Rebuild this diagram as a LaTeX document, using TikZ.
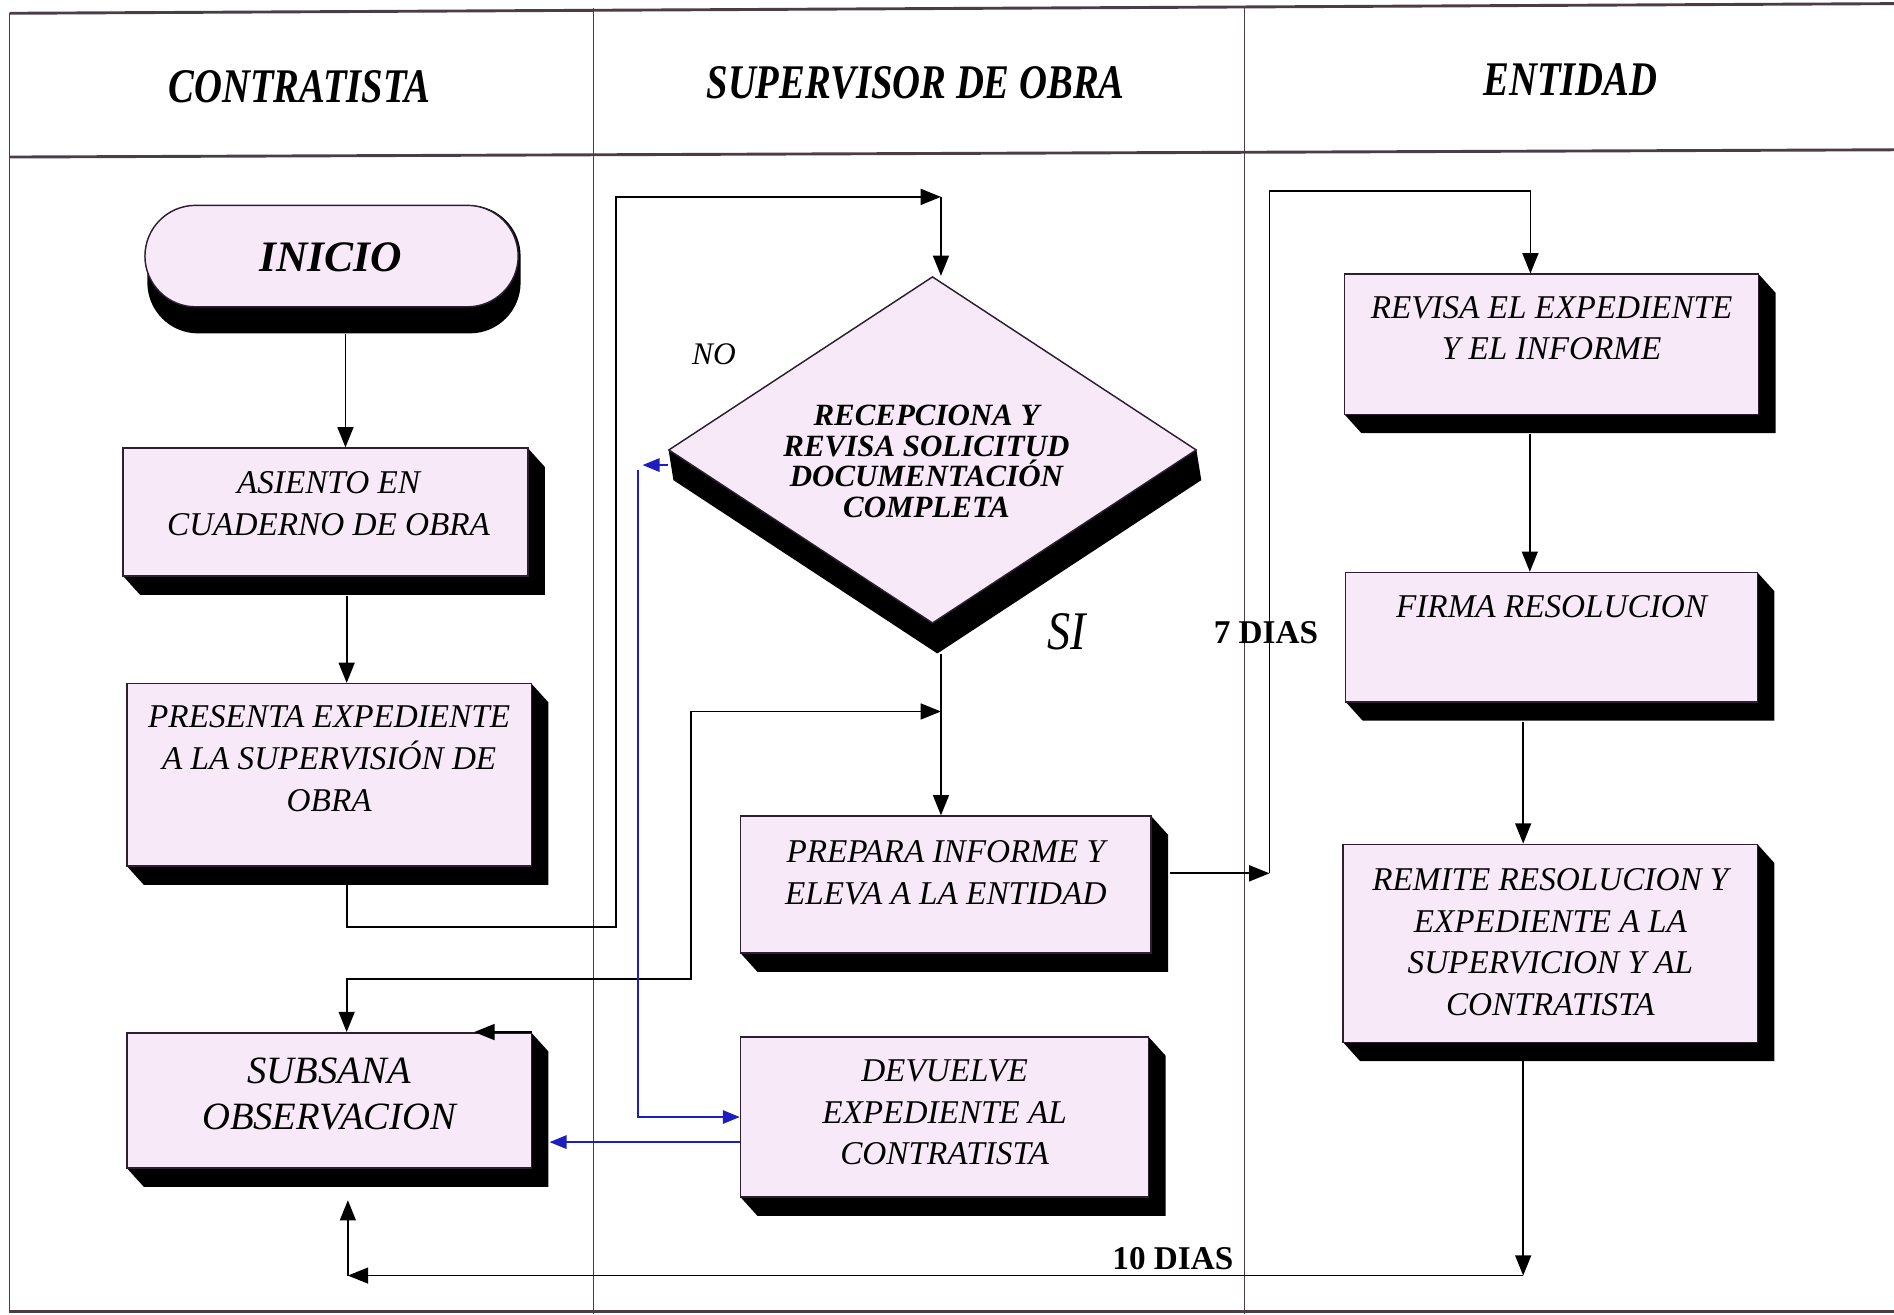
\documentclass[tikz,border=0pt]{standalone}
\usepackage{fontspec}
\setmainfont{Liberation Serif}
\usetikzlibrary{arrows.meta,shapes.geometric,fit,calc}
\definecolor{boxpink}{RGB}{247,233,248}
\definecolor{edgecol}{RGB}{45,30,50}
\definecolor{tline}{RGB}{75,60,70}
\definecolor{conblue}{RGB}{30,30,190}
\tikzset{
  pinkbox/.style={draw=edgecol, line width=0.6pt, fill=boxpink, inner sep=0pt},
  shadowfill/.style={fill=black},
  boxtext/.style={font=\fontsize{13.75}{17.25}\selectfont\itshape, align=center, inner sep=0pt},
  bigtext/.style={font=\fontsize{16}{19}\selectfont\itshape, align=center, inner sep=0pt},
  diatext/.style={font=\fontsize{12.8}{12.6}\selectfont\bfseries\itshape, align=center, inner sep=0pt},
  head/.style={font=\fontsize{20}{24}\selectfont\bfseries\itshape, xscale=0.8, inner sep=0pt},
  days/.style={font=\fontsize{13.75}{16}\selectfont\bfseries, inner sep=0pt},
  conn/.style={line width=0.7pt, draw=black},
  arr/.style={conn, -{Triangle[length=8.4pt,width=6.6pt]}},
  dblarr/.style={conn, {Triangle[length=8.4pt,width=6.6pt]}-{Triangle[length=8.4pt,width=6.6pt]}},
  barr/.style={line width=0.6pt, draw=conblue, -{Triangle[length=7pt,width=5.6pt]}, color=conblue},
  gridthin/.style={line width=0.45pt, draw=tline},
  gridthick/.style={line width=1.2pt, draw=tline},
}
\newcommand\flowbox[5]{%
  \fill[shadowfill] (#2,#3) -- (#4,#3) -- (#4+14,#3+15.5) -- (#4+14,#5+15.5) -- (#2+14,#5+15.5) -- (#2,#5) -- cycle;
  \node[pinkbox, fit={(#2,#3)(#4,#5)}] (#1) {};
}
\begin{document}
\begin{tikzpicture}[x=0.5pt,y=-0.5pt]
\useasboundingbox (0,0) rectangle (1568,1088);
% table
\draw[gridthick] (8,11) -- (1568,3);
\draw[gridthick] (8,130) -- (1568,124);
\draw[gridthick] (8,1086) -- (1568,1086);
\draw[gridthin] (8,11) -- (8,1087);
\draw[gridthin] (491,7) -- (491,1088);
\draw[gridthin] (1030,5) -- (1030,1088);
% headers
\node[head] (h1) at (248,72) {CONTRATISTA};
\node[head] (h2) at (758,69) {SUPERVISOR DE OBRA};
\node[head] (h3) at (1300,66) {ENTIDAD};

% INICIO
\fill[shadowfill, rounded corners=21pt] (122,170) rectangle (431,276);
\node[pinkbox, rounded corners=21pt, fit={(120,170)(429,254)}] (inicio) {};
\node[font=\fontsize{18}{22}\selectfont\bfseries\itshape, inner sep=0pt] (tinicio) at (274,213) {INICIO};

% boxes
\flowbox{asiento}{102}{371}{437}{477}
\node[boxtext] (tasiento) at (272,417) {ASIENTO EN\\CUADERNO DE OBRA};
\flowbox{presenta}{105}{566}{440}{717}
\node[boxtext] (tpresenta) at (272.5,628) {PRESENTA EXPEDIENTE\\A LA SUPERVISIÓN DE\\OBRA};
\flowbox{subsana}{105}{855}{440}{967}
\node[bigtext] (tsubsana) at (272.5,905.5) {SUBSANA\\OBSERVACION};
\flowbox{prepara}{613}{675.6}{953}{789}
\node[boxtext] (tprepara) at (783,722.7) {PREPARA INFORME Y\\ELEVA A LA ENTIDAD};
\flowbox{devuelve}{613}{858.5}{951}{991}
\node[boxtext] (tdevuelve) at (782,921) {DEVUELVE\\EXPEDIENTE AL\\CONTRATISTA};
\flowbox{revisa}{1113}{227}{1456}{343}
\node[boxtext] (trevisa) at (1284.5,271.7) {REVISA EL EXPEDIENTE\\Y EL INFORME};
\flowbox{firma}{1114}{474}{1455}{581}
\node[boxtext] (tfirma) at (1284.5,502.3) {FIRMA RESOLUCION};
\flowbox{remite}{1112}{699}{1455}{863}
\node[boxtext] (tremite) at (1283.5,780) {REMITE RESOLUCION Y\\EXPEDIENTE A LA\\SUPERVICION Y AL\\CONTRATISTA};

% diamond
\fill[shadowfill] (553.5,372.5) -- (772,229) -- (990.5,372.5) -- (994.5,397.5) -- (776,541) -- (557.5,397.5) -- cycle;
\node[pinkbox, diamond, aspect=1.52, minimum width=218.5pt, minimum height=143.5pt] (dia) at (772,372.5) {};
\node[diatext] (tdia) at (767,382) {RECEPCIONA Y\\REVISA SOLICITUD\\DOCUMENTACIÓN\\COMPLETA};

% labels
\node[font=\fontsize{13}{15}\selectfont\itshape, inner sep=0pt] (lno) at (591,293) {NO};
\node[font=\fontsize{22.5}{26}\selectfont\itshape, xscale=0.85, inner sep=0pt] (lsi) at (883,523) {SI};
\node[days] (l7) at (1048,524) {7 DIAS};
\node[days] (l10) at (971,1042) {10 DIAS};

% coordinates
\coordinate (k1) at (510,163);
\coordinate (k2) at (779,163);
\coordinate (k3) at (779,589);
\coordinate (k4) at (1051,723);
\coordinate (k5) at (1261,1056);
\coordinate (k6) at (288,1056);
\coordinate (b1) at (532,385);
\coordinate (b2) at (528,389);
\coordinate (b3) at (455,945.5);

% connectors
\draw[arr] ([shift={(11.5,22)}]inicio.south) -- ([shift={(16.5,0)}]asiento.north);
\draw[arr] ([shift={(17.5,15.5)}]asiento.south) -- ([shift={(14.5,0)}]presenta.north);
\draw[arr] ([shift={(14.5,0)}]presenta.south) -- ++(0,50) -| (k1) -- (k2);
\draw[arr] (k2) -- (k2 |- dia.north);
\draw[arr] ([shift={(7,25)}]dia.south) -- (k3 |- prepara.north);
\draw[dblarr] ([shift={(14.5,0)}]subsana.north) -- ++(0,-44) -| (572,589) -- (k3);
\draw[arr] ([shift={(15,-9.3)}]prepara.east) -- (k4);
\draw[conn] (k4) -- (1051,158) -| ([shift={(-17.5,0)}]revisa.north);
\draw[arr] (1267,200) -- ([shift={(-17.5,0)}]revisa.north);
\draw[arr] ([shift={(-18,15.5)}]revisa.south) -- ([shift={(-18,0)}]firma.north);
\draw[arr] ([shift={(-23.5,16)}]firma.south) -- ([shift={(-22.5,0)}]remite.north);
\draw[arr] ([shift={(-22.5,15)}]remite.south) -- (k5);
\draw[arr] (k5) -- (k6);
\draw[arr] (k6) -- ([shift={(15.5,26)}]subsana.south);
\draw[arr] (subsana.north east) -- ++(-48,0);
% blue
\draw[barr] ([shift={(0,12.5)}]dia.west) -- (b1);
\draw[barr] (b2) |- (devuelve.west);
\draw[barr] ([shift={(0,20.75)}]devuelve.west) -- (b3);
\end{tikzpicture}
\end{document}
